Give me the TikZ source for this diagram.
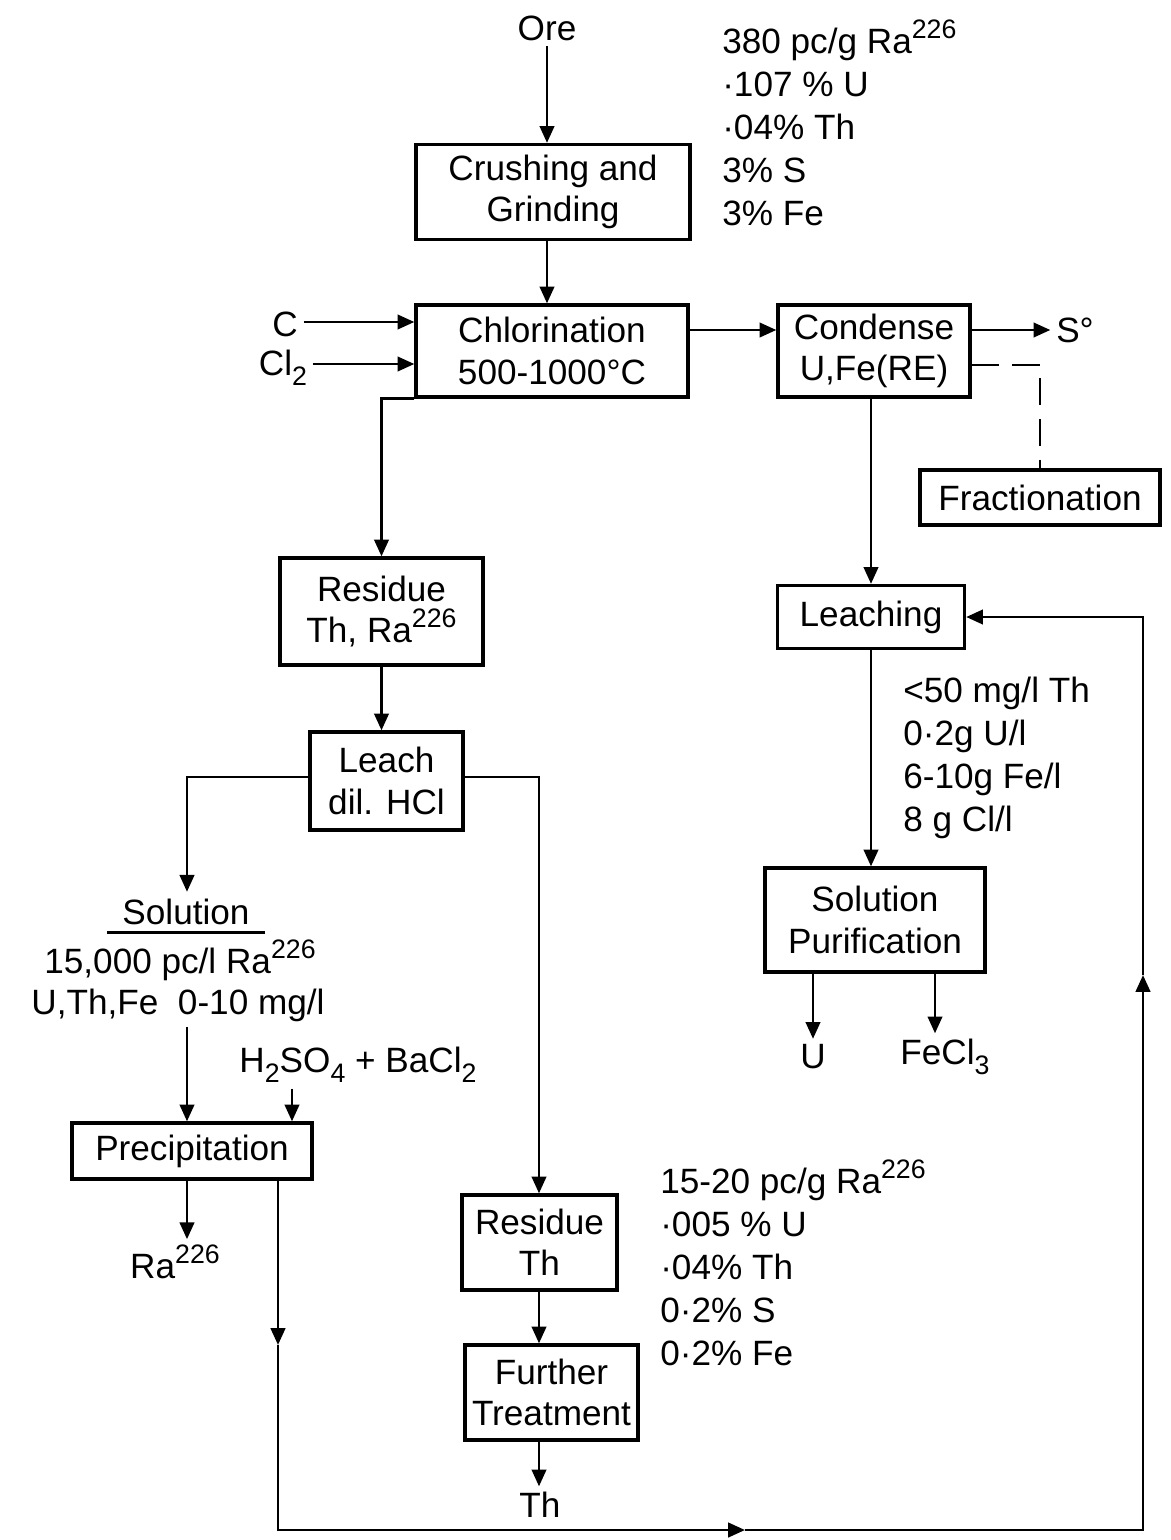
\documentclass[tikz,border=0pt]{standalone}
\usepackage{fontspec}
\setmainfont{Liberation Sans}
\usetikzlibrary{arrows.meta}
\newcommand{\txt}{\fontsize{25}{29.5}\selectfont}
\newcommand{\atxt}{\fontsize{25}{30.6}\selectfont}
\newcommand{\sps}[1]{\raisebox{0.42em}{\fontsize{19}{19}\selectfont #1}}
\newcommand{\sbs}[1]{\raisebox{-0.28em}{\fontsize{19}{19}\selectfont #1}}
\tikzset{
  pbox/.style={draw, line width=2.3pt, align=center, inner sep=0pt, font=\txt},
  lbl/.style={inner sep=4pt, font=\txt, align=center},
  ann/.style={inner sep=0pt, font=\atxt, align=left, anchor=north west},
  flow/.style={line width=2pt},
  arr/.style={flow, -{Triangle[length=0.42cm,width=0.36cm]}},
  dsh/.style={flow, dash pattern=on 0.68cm off 0.34cm},
}
\begin{document}
\begin{tikzpicture}[x=0.025cm, y=-0.025cm]
\useasboundingbox (0,0) rectangle (1171,1540);

% nodes
\node[lbl] (ore) at (547,28) {Ore};
\node[pbox, minimum width=6.85cm, minimum height=2.375cm] (crush) at (553,192) {Crushing and\\Grinding};
\node[ann] (an1) at (722,20) {380 pc/g Ra\sps{226}\\·107 \% U\\·04\% Th\\3\% S\\3\% Fe};
\node[pbox, minimum width=6.8cm, minimum height=2.3cm] (chlor) at (552,351) {Chlorination\\500-1000°C};
\node[lbl] (c) at (285,324) {C};
\node[lbl] (cl) at (283,368) {Cl\sbs{2}};
\node[pbox, minimum width=4.8cm, minimum height=2.3cm] (cond) at (874,351) {Condense\\U,Fe(RE)};
\node[lbl] (s) at (1075,330) {S°};
\node[pbox, minimum width=6cm, minimum height=1.375cm] (frac) at (1040,497.5) {Fractionation};
\node[pbox, minimum width=4.675cm, minimum height=1.575cm] (leaching) at (871,617) {Leaching};
\node[ann] (an2) at (903,677) {<50 mg/l Th\\0·2g U/l\\6-10g Fe/l\\8 g Cl/l};
\node[pbox, minimum width=5.5cm, minimum height=2.6cm] (purif) at (875,920) {Solution\\Purification};
\node[lbl] (u) at (813,1057) {U};
\node[lbl] (fecl) at (945,1057) {FeCl\sbs{3}};
\node[pbox, minimum width=5.075cm, minimum height=2.675cm] (res1) at (381.5,611.5) {Residue\\Th, Ra\sps{226}};
\node[pbox, minimum width=3.825cm, minimum height=2.45cm] (leach) at (386.5,781) {Leach\\dil. HCl};
\node[lbl, inner xsep=10.6pt, inner ysep=5pt] (sol) at (186,912) {Solution};
\node[lbl] (conc1) at (180,960) {15,000 pc/l Ra\sps{226}};
\node[lbl] (conc2) at (178,1005) {U,Th,Fe\ \ 0-10 mg/l};
\node[lbl] (reag) at (358,1065) {H\sbs{2}SO\sbs{4} + BaCl\sbs{2}};
\node[pbox, minimum width=6cm, minimum height=1.4cm] (precip) at (192,1151) {Precipitation};
\node[lbl] (ra) at (175,1262) {Ra\sps{226}};
\node[pbox, minimum width=3.875cm, minimum height=2.375cm] (res2) at (539.5,1242.5) {Residue\\Th};
\node[pbox, minimum width=4.325cm, minimum height=2.375cm] (ft) at (551.5,1392.5) {Further\\Treatment};
\node[lbl] (th) at (540,1505) {Th};
\node[ann] (an3) at (660,1160) {15-20 pc/g Ra\sps{226}\\·005 \% U\\·04\% Th\\0·2\% S\\0·2\% Fe};

% helper coordinates
\coordinate (yc) at (0,322);
\coordinate (ycl) at (0,364);
\coordinate (y330) at (0,330);
\coordinate (y365) at (0,365);
\coordinate (y777) at (0,777);
\coordinate (xL) at (187,0);
\coordinate (xR) at (539,0);
\coordinate (xs2) at (292,0);
\coordinate (xfe) at (935,0);
\coordinate (xloop) at (278,0);
\coordinate (m1) at (278,1345);
\coordinate (c1) at (278,1530);
\coordinate (m2) at (745,1530);
\coordinate (c2) at (1143,1530);
\coordinate (m3) at (1143,975);

% connectors
\draw[arr] (ore.south) -- (ore.south |- crush.north);
\draw[arr] (crush.south -| ore) -- (ore |- chlor.north);
\draw[arr] (c.east |- yc) -- (chlor.west |- yc);
\draw[arr] (cl.east |- ycl) -- (chlor.west |- ycl);
\draw[arr] (chlor.east |- y330) -- (cond.west |- y330);
\draw[arr] (cond.east |- y330) -- (s.west);
\draw[dsh] (cond.east |- y365) -- (frac.north |- y365) -- (frac.north);
\draw[arr] (cond.south -| leaching) -- (leaching.north);
\draw[arr] (leaching.south) -- (leaching.south |- purif.north);
\draw[arr] (purif.south -| u) -- (u.north);
\draw[arr] (purif.south -| xfe) -- (xfe |- fecl.north);

\draw[arr] (chlor.south west) -- (chlor.south west -| res1.north) -- (res1.north);
\draw[arr] (res1.south) -- (res1.south |- leach.north);
\draw[arr] (leach.west |- y777) -- (xL |- y777) -- (xL |- sol.north);
\draw[arr] (leach.east |- y777) -- (xR |- y777) -- (xR |- res2.north);
\draw[flow] (sol.south west) -- (sol.south east);
\draw[arr] (conc2.south -| xL) -- (xL |- precip.north);
\draw[arr] (reag.south -| xs2) -- (xs2 |- precip.north);
\draw[arr] (precip.south -| xL) -- (xL |- ra.north);

\draw[arr] (precip.south -| xloop) -- (m1);
\draw[arr] (m1) -- (c1) -- (m2);
\draw[arr] (m2) -- (c2) -- (m3);
\draw[arr] (m3) -- (m3 |- leaching.east) -- (leaching.east);

\draw[arr] (res2.south -| xR) -- (xR |- ft.north);
\draw[arr] (ft.south -| xR) -- (xR |- th.north);
\end{tikzpicture}
\end{document}
